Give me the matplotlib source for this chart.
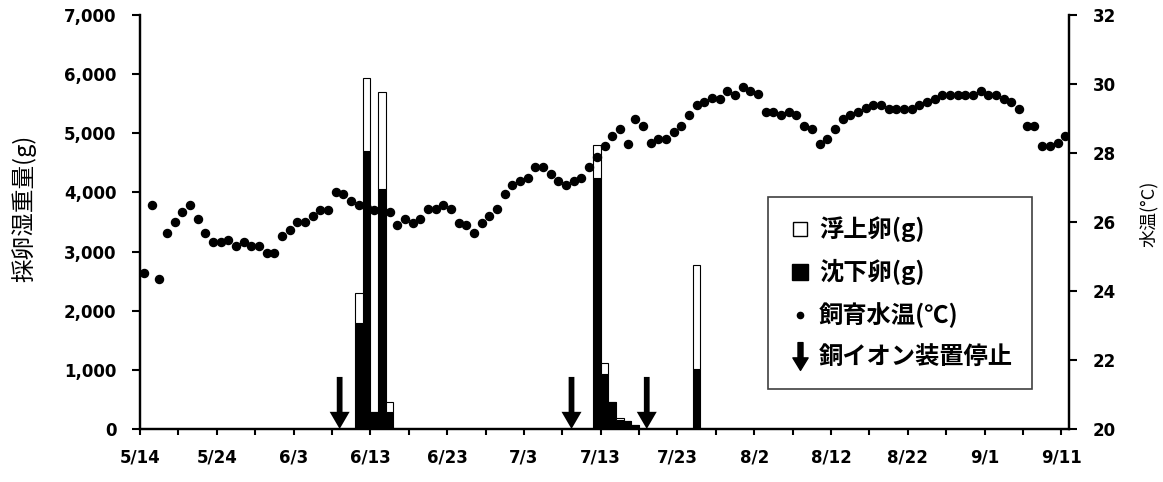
import numpy as np
import matplotlib
matplotlib.use('Agg')
import matplotlib.pyplot as plt
from matplotlib.lines import Line2D
from matplotlib.path import Path
from matplotlib.ticker import FuncFormatter

plt.rcParams['font.family'] = ['Noto Sans CJK JP', 'DejaVu Sans']

# day index: 0 = 5/14
tick_labels = ['5/14', '5/24', '6/3', '6/13', '6/23', '7/3', '7/13',
               '7/23', '8/2', '8/12', '8/22', '9/1', '9/11']

# 飼育水温 (one value per day, 5/14 - 9/11)
temp = [24.53, 26.49, 24.34, 25.69, 25.99, 26.28, 26.50, 26.09, 25.67, 25.42,
        25.42, 25.49, 25.30, 25.42, 25.30, 25.30, 25.11, 25.11, 25.59, 25.78,
        25.99, 25.99, 26.17, 26.36, 26.36, 26.87, 26.82, 26.60, 26.48, 26.40,
        26.36, 26.35, 26.30, 25.90, 26.10, 25.98, 26.10, 26.38, 26.38, 26.49,
        26.38, 25.98, 25.90, 25.67, 25.98, 26.17, 26.38, 26.80, 27.07, 27.20,
        27.26, 27.58, 27.58, 27.38, 27.19, 27.06, 27.19, 27.26, 27.58, 27.89,
        28.19, 28.48, 28.68, 28.27, 28.99, 28.79, 28.29, 28.41, 28.41, 28.61,
        28.79, 29.11, 29.38, 29.49, 29.59, 29.57, 29.80, 29.69, 29.90, 29.80,
        29.70, 29.19, 29.19, 29.09, 29.19, 29.09, 28.79, 28.68, 28.27, 28.41,
        28.68, 28.99, 29.11, 29.19, 29.30, 29.40, 29.40, 29.28, 29.28, 29.28,
        29.28, 29.38, 29.49, 29.57, 29.69, 29.69, 29.69, 29.69, 29.69, 29.80,
        29.69, 29.69, 29.56, 29.48, 29.28, 28.79, 28.79, 28.19, 28.19, 28.29,
        28.48]

# 採卵 (g)
egg_days = [28, 29, 30, 31, 32, 59, 60, 61, 62, 63, 64, 72]
sink_eggs = [1790, 4700, 280, 4060, 290, 4250, 930, 450, 150, 135, 70, 1010]
float_eggs = [510, 1240, 0, 1630, 170, 550, 190, 0, 40, 0, 0, 1760]

# 銅イオン装置停止
stop_days = [26, 56.2, 66]

days = np.arange(len(temp))

fig = plt.figure(figsize=(11.63, 4.82), dpi=100)
ax = fig.add_axes([0.1204, 0.110, 0.7988, 0.859])
ax2 = ax.twinx()

bx = np.array(egg_days) + 0.5
ax.bar(bx, sink_eggs, width=1, color='black', edgecolor='black', lw=0.8)
ax.bar(bx, float_eggs, width=1, bottom=sink_eggs, color='white',
       edgecolor='black', lw=0.8)

for d in stop_days:
    ax.arrow(d, 880, 0, -880, width=0.75, head_width=2.6, head_length=290,
             length_includes_head=True, color='black', lw=0)

ax2.plot(days + 0.5, temp, 'o', color='black', ms=5.8, lw=0)

ax.set_xlim(0, 121)
ax.set_ylim(0, 7000)
ax2.set_ylim(20, 32)
ax.set_xticks(np.arange(0, 121, 10))
ax.set_xticks(np.arange(5, 121, 10), minor=True)
ax.set_xticklabels(tick_labels)
ax.set_yticks(np.arange(0, 7001, 1000))
ax.yaxis.set_major_formatter(FuncFormatter(lambda v, p: f'{int(v):,}'))
ax2.set_yticks(np.arange(20, 33, 2))

for a in (ax, ax2):
    a.spines['top'].set_visible(False)
    for s in a.spines.values():
        s.set_linewidth(1.6)
ax.tick_params(axis='x', which='both', direction='out', length=4, width=1.5,
               pad=10)
ax.tick_params(axis='y', direction='out', length=6, width=1.5, pad=11)
ax2.tick_params(axis='y', direction='out', length=6, width=1.5, pad=11)
for lab in ax.get_xticklabels() + ax.get_yticklabels() + ax2.get_yticklabels():
    lab.set_fontweight('bold')
    lab.set_family('DejaVu Sans')
    lab.set_fontsize(12)

ax.set_ylabel('採卵湿重量(g)', fontsize=17)
ax.yaxis.set_label_coords(-0.112, 0.534)
ax2.set_ylabel('水温(°C)', fontsize=13)
ax2.yaxis.set_label_coords(1.076, 0.52)

arrow_marker = Path([(-0.18, 1), (0.18, 1), (0.18, -0.1), (0.55, -0.1),
                     (0, -1), (-0.55, -0.1), (-0.18, -0.1), (-0.18, 1)],
                    [Path.MOVETO] + [Path.LINETO] * 6 + [Path.CLOSEPOLY])
handles = [
    Line2D([], [], ls='none', marker='s', ms=10, mfc='white', mec='black', mew=1),
    Line2D([], [], ls='none', marker='s', ms=11, mfc='black', mec='black'),
    Line2D([], [], ls='none', marker='o', ms=4.5, color='black'),
    Line2D([], [], ls='none', marker=arrow_marker, ms=20, color='black'),
]
labels = ['浮上卵(g)', '沈下卵(g)', '飼育水温(℃)', '銅イオン装置停止']
leg = ax2.legend(handles, labels, loc='upper left',
                 bbox_to_anchor=(768 / 1163, 1 - 197 / 482),
                 bbox_transform=fig.transFigure, frameon=True, fancybox=False,
                 edgecolor='#404040', framealpha=1, borderaxespad=0,
                 prop=dict(weight='bold', size=17.5), handlelength=1.0,
                 handletextpad=0.3, labelspacing=0.7, borderpad=0.8)
leg.get_frame().set_linewidth(1.2)

fig.savefig('out.png', dpi=100)
